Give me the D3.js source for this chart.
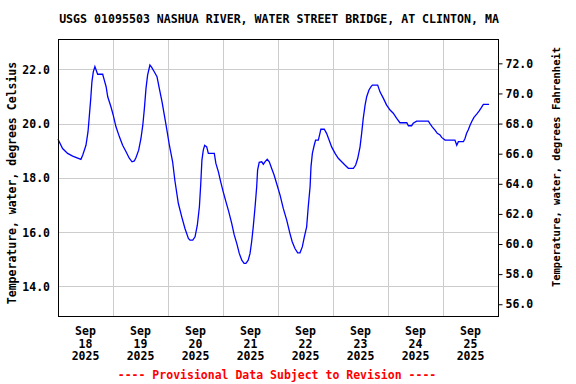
<!DOCTYPE html>
<html lang="en">
<head>
<meta charset="utf-8">
<title>USGS 01095503 Nashua River at Clinton</title>
<script src="https://d3js.org/d3.v7.min.js"></script>
<style>
    body { margin: 0; background: #ffffff; }
    text { font-family: 'DejaVu Sans Mono', monospace; font-weight: bold; fill: #000000; }
    .grid line { stroke: #cccccc; stroke-width: 1; }
    .frame { fill: none; stroke: #000000; stroke-width: 1; }
    .axis text { font-size: 11.5px; }
    .red { fill: #ff0000; }
</style>
</head>
<body>
<svg width="576" height="384"></svg>
<script>
// hours after 2025-09-18 00:00 and water temperature (deg C)
var hours = [0, 2, 4.2, 6.4, 10, 10.8, 12.2, 13.1, 13.7, 14.3, 14.8, 15.4, 16.1, 16.9, 17.3, 19.5,
    20.2, 21, 21.7, 23.1, 24.1, 25.3, 26.8, 28.2, 29.7, 31.1, 32.3, 33.3, 34, 35.2, 36.2, 37, 37.7,
    38.4, 39.1, 40.1, 40.9, 42, 43.2, 44.2, 45.4, 46.4, 47.4, 48.6, 50, 51, 52.5, 54, 55.4, 56.9,
    57.6, 58.8, 59.8, 60.8, 61.7, 62.3, 62.8, 63.4, 64, 64.9, 65.6, 68.2, 68.9, 70, 71, 72.1, 73.3,
    74.5, 75.8, 76.9, 78, 79.1, 80.2, 81.2, 82, 83, 83.8, 84.5, 85.2, 86, 86.7, 87.1, 87.8, 88.9,
    89.6, 90.3, 91.3, 92.2, 93.2, 94.3, 95.4, 96.9, 98.3, 99.8, 101.2, 102.2, 103.4, 104.6, 105.6,
    106.6, 107.5, 108.5, 109.2, 110, 110.4, 111, 111.8, 112.4, 113.6, 114.3, 114.7, 116.2, 117.2,
    118.3, 119.4, 120.9, 122.3, 123.8, 125.2, 126.7, 128.9, 129.9, 130.8, 131.8, 132.5, 133.2, 134,
    134.7, 135.7, 136.6, 137.2, 139.5, 140.5, 142, 143.4, 144.9, 146.3, 147.8, 149.2, 152.2, 152.9,
    154.3, 155, 156.5, 161.6, 162.3, 163.3, 164.5, 165.5, 166.7, 167.4, 168.9, 173.2, 174, 174.7,
    176.9, 177.6, 178.3, 179, 179.8, 180.5, 181.5, 182.7, 183.8, 184.8, 185.6, 188.1];
var tempC = [19.42, 19.08, 18.9, 18.8, 18.68, 18.84, 19.2, 19.7, 20.31, 20.93, 21.54, 21.91, 22.1, 21.91, 21.82, 21.82,
    21.6, 21.36, 20.99, 20.62, 20.31, 19.88, 19.51, 19.2, 18.96, 18.72, 18.59, 18.62, 18.74, 19.02, 19.45, 19.94, 20.56,
    21.3, 21.79, 22.16, 22.07, 21.91, 21.73, 21.3, 20.8, 20.31, 19.82, 19.2, 18.6, 17.9, 17.06, 16.56, 16.13, 15.76,
    15.7, 15.7, 15.82, 16.25, 16.93, 17.79, 18.65, 19.02, 19.2, 19.14, 18.9, 18.9, 18.53, 18.22, 17.85, 17.48, 17.11,
    16.75, 16.32, 15.89, 15.58, 15.21, 14.96, 14.84, 14.84, 14.96, 15.21, 15.64, 16.19, 16.93, 17.67, 18.28, 18.57, 18.59,
    18.5, 18.59, 18.68, 18.59, 18.35, 18.1, 17.79, 17.36, 16.87, 16.44, 15.95, 15.64, 15.39, 15.23, 15.23,
    15.45, 15.82, 16.19, 16.93, 17.67, 18.41, 18.9, 19.2, 19.39, 19.39, 19.64, 19.79, 19.79, 19.64,
    19.39, 19.14, 18.9, 18.72, 18.59, 18.47, 18.35, 18.35, 18.47, 18.72, 19.14, 19.64, 20.19, 20.68,
    20.99, 21.24, 21.36, 21.42, 21.42, 21.17, 20.93, 20.68, 20.5, 20.38, 20.19, 20.03, 20.03, 19.92,
    19.92, 20.01, 20.09, 20.09, 20.0, 19.88, 19.76, 19.64, 19.58, 19.49, 19.39, 19.39, 19.2, 19.33,
    19.33, 19.45, 19.64, 19.76, 19.94, 20.07, 20.23, 20.35, 20.47, 20.6, 20.71, 20.71];

var celsiusTicks = [14, 16, 18, 20, 22];
var fahrenheitTicks = [56, 58, 60, 62, 64, 66, 68, 70, 72];
var dayLabels = ["18", "19", "20", "21", "22", "23", "24", "25"];

var svg = d3.select("svg"),
    margin = {top: 39, right: 78, bottom: 68, left: 58},
    width = +svg.attr("width") - margin.left - margin.right,
    height = +svg.attr("height") - margin.top - margin.bottom;

var start = new Date(2025, 8, 18);
var data = hours.map(function(h, i) {
    return {t: new Date(start.getTime() + h * 3600000), c: tempC[i]};
});

var x = d3.scaleTime()
    .domain([start, new Date(2025, 8, 26)])
    .range([margin.left, margin.left + width]);
var y = d3.scaleLinear()
    .domain([12.9, 23.12])
    .range([margin.top + height, margin.top]);
var yF = d3.scaleLinear()
    .domain(y.domain().map(function(c) { return c * 9 / 5 + 32; }))
    .range(y.range());

// grid
var grid = svg.append("g").attr("class", "grid");
grid.selectAll(".hg")
    .data(celsiusTicks)
    .enter().append("line")
    .attr("x1", margin.left).attr("x2", margin.left + width)
    .attr("y1", function(d) { return Math.round(y(d)) + 0.5; })
    .attr("y2", function(d) { return Math.round(y(d)) + 0.5; });
grid.selectAll(".vg")
    .data(d3.range(1, 8))
    .enter().append("line")
    .attr("y1", margin.top).attr("y2", margin.top + height)
    .attr("x1", function(d) { return Math.round(x(d3.timeDay.offset(start, d))) + 0.5; })
    .attr("x2", function(d) { return Math.round(x(d3.timeDay.offset(start, d))) + 0.5; });

// data line
svg.append("path")
    .datum(data)
    .attr("fill", "none")
    .attr("stroke", "#0000ff")
    .attr("stroke-width", 1.3)
    .attr("d", d3.line()
        .x(function(d) { return x(d.t); })
        .y(function(d) { return y(d.c); }));

svg.append("rect")
    .attr("class", "frame")
    .attr("x", margin.left + 0.5).attr("y", margin.top + 0.5)
    .attr("width", width).attr("height", height);

// left axis (Celsius)
var left = svg.append("g")
    .attr("class", "axis")
    .attr("transform", "translate(" + margin.left + ",0)")
    .call(d3.axisLeft(y).tickValues(celsiusTicks).tickSize(0).tickPadding(8).tickFormat(d3.format(".1f")));
left.select(".domain").remove();
left.selectAll("text").attr("fill", "#000").attr("dy", "0.35em");

// right axis (Fahrenheit)
var right = svg.append("g")
    .attr("class", "axis")
    .attr("transform", "translate(" + (margin.left + width + 0.5) + ",0)")
    .call(d3.axisRight(yF).tickValues(fahrenheitTicks).tickSize(4).tickPadding(3).tickFormat(d3.format(".1f")));
right.select(".domain").remove();
right.selectAll("line").attr("stroke", "#000");
right.selectAll("text").attr("fill", "#000");

// day labels at noon
var days = svg.append("g").attr("class", "axis");
dayLabels.forEach(function(lab, i) {
    var t = new Date(2025, 8, 18 + i, 12);
    var tx = days.append("text")
        .attr("text-anchor", "middle")
        .attr("x", x(t));
    ["Sep", lab, "2025"].forEach(function(s, k) {
        tx.append("tspan").attr("x", x(t)).attr("y", 335 + k * 12.5).text(s);
    });
});

// titles
svg.append("text")
    .attr("x", 279).attr("y", 23)
    .attr("text-anchor", "middle")
    .style("font-size", "11.6px")
    .text("USGS 01095503 NASHUA RIVER, WATER STREET BRIDGE, AT CLINTON, MA");

svg.append("text")
    .attr("transform", "translate(16,183) rotate(-90)")
    .attr("text-anchor", "middle")
    .style("font-size", "11.5px")
    .text("Temperature, water, degrees Celsius");

svg.append("text")
    .attr("transform", "translate(560,167) rotate(-90)")
    .attr("text-anchor", "middle")
    .style("font-size", "10.5px")
    .text("Temperature, water, degrees Fahrenheit");

svg.append("text")
    .attr("class", "red")
    .attr("x", 277).attr("y", 379)
    .attr("text-anchor", "middle")
    .style("font-size", "11.5px")
    .text("---- Provisional Data Subject to Revision ----");
</script>
</body>
</html>
